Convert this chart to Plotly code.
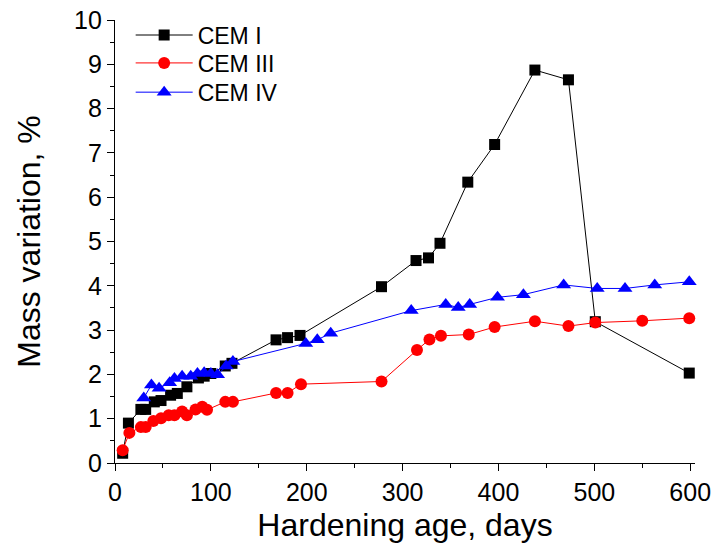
import plotly.graph_objects as go

# CEM I (black squares)
cem1_days = [8, 14, 27, 32, 41, 48, 58, 65, 75, 87, 93, 100, 115, 122, 168, 180, 193,
             278, 314, 327, 339, 368, 396, 438, 473, 501, 599]
cem1_vals = [0.22, 0.90, 1.21, 1.21, 1.38, 1.41, 1.53, 1.57, 1.72, 1.92, 1.96, 2.02, 2.19, 2.25,
             2.78, 2.83, 2.88, 3.98, 4.57, 4.63, 4.96, 6.34, 7.19, 8.87, 8.65, 3.19, 2.03]

# CEM III (red circles)
cem3_days = [8, 15, 27, 32, 40, 48, 56, 62, 70, 75, 84, 91, 96, 115, 123, 168, 180, 194,
             278, 315, 328, 340, 369, 396, 438, 473, 501, 550, 599]
cem3_vals = [0.29, 0.68, 0.81, 0.81, 0.95, 1.01, 1.08, 1.08, 1.16, 1.08, 1.21, 1.27, 1.20,
             1.38, 1.38, 1.58, 1.58, 1.78, 1.84, 2.55, 2.79, 2.87, 2.90, 3.07, 3.20, 3.09,
             3.17, 3.21, 3.27]

# CEM IV (blue triangles)
cem4_days = [30, 38, 46, 57, 62, 70, 79, 86, 93, 100, 107, 116, 123, 199, 211, 225,
             309, 345, 358, 370, 399, 426, 468, 503, 532, 563, 599]
cem4_vals = [1.47, 1.76, 1.69, 1.81, 1.91, 1.96, 1.96, 2.02, 2.04, 2.02, 1.99, 2.19, 2.29,
             2.70, 2.78, 2.93, 3.44, 3.58, 3.51, 3.58, 3.74, 3.80, 4.02, 3.94, 3.94, 4.02, 4.09]

x_ticks = [0, 100, 200, 300, 400, 500, 600]
y_ticks = [0, 1, 2, 3, 4, 5, 6, 7, 8, 9, 10]

FONT = "Liberation Sans, Arial, sans-serif"
TICKFONT = "Liberation Sans Narrow, Arial Narrow, Liberation Sans, sans-serif"

fig = go.Figure()
fig.add_trace(go.Scatter(x=cem1_days, y=cem1_vals, name="CEM I", mode="lines+markers",
                         line=dict(color="black", width=1),
                         marker=dict(symbol="square", size=11, color="black"),
                         cliponaxis=False, legend="legend"))
fig.add_trace(go.Scatter(x=cem3_days, y=cem3_vals, name="CEM III", mode="lines+markers",
                         line=dict(color="#ff0000", width=1),
                         marker=dict(symbol="circle", size=12, color="#ff0000"),
                         cliponaxis=False, legend="legend2"))
fig.add_trace(go.Scatter(x=cem4_days, y=cem4_vals, name="CEM IV", mode="lines+markers",
                         line=dict(color="#0000ff", width=1),
                         marker=dict(symbol="triangle-up", size=13, color="#0000ff"),
                         cliponaxis=False, legend="legend3"))

axis_common = dict(showline=True, linecolor="black", linewidth=1.3, ticks="outside",
                   ticklen=7, tickwidth=1.3, tickcolor="black", showgrid=False,
                   zeroline=False, mirror=False, automargin=False,
                   tickfont=dict(family=TICKFONT, size=25, color="black"))

legend_common = dict(x=0.027, xanchor="left", yanchor="middle", bgcolor="rgba(0,0,0,0)",
                     font=dict(family=FONT, size=23), itemwidth=57)

fig.update_layout(
    width=712, height=550,
    margin=dict(l=115, r=17, t=20, b=87),
    paper_bgcolor="white", plot_bgcolor="white",
    font=dict(family=FONT, color="black"),
    xaxis=dict(range=[0, 605], tickvals=x_ticks,
               minor=dict(dtick=50, ticks="outside", ticklen=4, tickwidth=1.3, tickcolor="black"),
               title=dict(text="Hardening age, days", font=dict(family=FONT, size=32), standoff=8),
               **axis_common),
    yaxis=dict(range=[0, 10], tickvals=y_ticks,
               minor=dict(dtick=0.5, ticks="outside", ticklen=4, tickwidth=1.3, tickcolor="black"),
               title=dict(text="Mass variation, %", font=dict(family=FONT, size=32), standoff=23),
               **axis_common),
    legend=dict(y=0.966, **legend_common),
    legend2=dict(y=0.903, **legend_common),
    legend3=dict(y=0.837, **legend_common),
    showlegend=True,
)

fig.write_html("out.html")
